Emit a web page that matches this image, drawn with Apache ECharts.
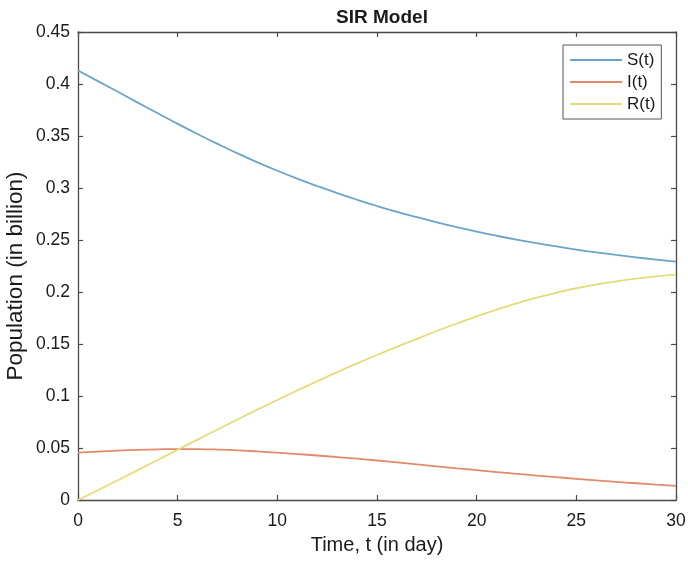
<!DOCTYPE html>
<html>
<head>
<meta charset="utf-8">
<script src="https://cdn.jsdelivr.net/npm/echarts@6/dist/echarts.min.js"></script>
<style>
  html, body { margin: 0; padding: 0; background: #fff; }
  #chart { width: 688px; height: 564px; }
</style>
</head>
<body>
<div id="chart"></div>
<script>
// Time in days
const days = [0, 1, 2, 3, 4, 5, 6, 7, 8, 9, 10, 11, 12, 13, 14, 15,
              16, 17, 18, 19, 20, 21, 22, 23, 24, 25, 26, 27, 28, 29, 30];

// Susceptible population (billion)
const susceptible = [0.4130, 0.4028, 0.3925, 0.3821, 0.3718, 0.3617, 0.3519, 0.3424, 0.3333, 0.3247,
                     0.3166, 0.3090, 0.3019, 0.2951, 0.2887, 0.2827, 0.2771, 0.2719, 0.2670, 0.2624,
                     0.2581, 0.2541, 0.2504, 0.2470, 0.2438, 0.2408, 0.2381, 0.2356, 0.2333, 0.2312, 0.2293];

// Infected population (billion)
const infected = [0.0455, 0.0466, 0.0475, 0.0482, 0.0487, 0.0490, 0.0489, 0.0485, 0.0478, 0.0467,
                  0.0455, 0.0442, 0.0428, 0.0413, 0.0397, 0.0380, 0.0362, 0.0343, 0.0324, 0.0305,
                  0.0287, 0.0269, 0.0252, 0.0235, 0.0219, 0.0204, 0.0189, 0.0175, 0.0161, 0.0148, 0.0136];

// Recovered population (billion)
const recovered = [0, 0.0094, 0.0190, 0.0287, 0.0385, 0.0483, 0.0581, 0.0678, 0.0774, 0.0869,
                   0.0962, 0.1053, 0.1142, 0.1229, 0.1313, 0.1394, 0.1473, 0.1550, 0.1625, 0.1697,
                   0.1766, 0.1831, 0.1891, 0.1945, 0.1993, 0.2036, 0.2072, 0.2103, 0.2129, 0.2150, 0.2167];

const seriesNames = ['S(t)', 'I(t)', 'R(t)'];
const seriesColors = ['#6aa5c9', '#e28a6c', '#e4dc78'];

const FONT = '"Liberation Sans", Arial, sans-serif';
const AXIS_COLOR = '#4a4a4a';

const pairs = (ys) => days.map((d, i) => [d, ys[i]]);

// Shared look for the boxed axes (ticks point into the plot)
const axisCommon = {
  type: 'value',
  axisLine: { show: true, onZero: false, lineStyle: { color: AXIS_COLOR, width: 1.3 } },
  axisTick: { show: true, inside: true, length: 5, lineStyle: { color: AXIS_COLOR, width: 1.2 } },
  splitLine: { show: false }
};

const chart = echarts.init(document.getElementById('chart'), null, { renderer: 'canvas' });

chart.setOption({
  animation: false,
  backgroundColor: '#ffffff',
  title: {
    text: 'SIR Model',
    left: 377,
    textAlign: 'center',
    top: 3,
    textStyle: { fontFamily: FONT, fontSize: 19, fontWeight: 'bold', color: '#1a1a1a' }
  },
  legend: {
    orient: 'vertical',
    left: 563,
    top: 45,
    data: seriesNames,
    icon: 'rect',
    itemWidth: 52,
    itemHeight: 2,
    itemGap: 2,
    padding: [5, 6, 5, 7],
    borderColor: '#555',
    borderWidth: 1,
    backgroundColor: '#fff',
    textStyle: { fontFamily: FONT, fontSize: 17, color: '#1a1a1a', lineHeight: 20 }
  },
  grid: { left: 78, right: 12, top: 32, bottom: 64, containLabel: false, outerBoundsMode: 'none' },
  xAxis: [
    Object.assign({}, axisCommon, {
      position: 'bottom',
      min: 0, max: 30, interval: 5,
      name: 'Time, t (in day)',
      nameLocation: 'middle',
      nameGap: 35,
      nameMoveOverlap: false,
      nameTextStyle: { fontFamily: FONT, fontSize: 20, color: '#1a1a1a' },
      axisLabel: { fontFamily: FONT, fontSize: 17.5, color: '#1a1a1a', margin: 12 }
    }),
    Object.assign({}, axisCommon, {
      position: 'top',
      min: 0, max: 30, interval: 5,
      axisLabel: { show: false }
    })
  ],
  yAxis: [
    Object.assign({}, axisCommon, {
      position: 'left',
      min: 0, max: 0.45, interval: 0.05,
      name: 'Population (in billion)',
      nameLocation: 'middle',
      nameGap: 51,
      nameMoveOverlap: false,
      nameTextStyle: { fontFamily: FONT, fontSize: 22.5, color: '#1a1a1a', padding: [0, 20, 0, 0] },
      axisLabel: { fontFamily: FONT, fontSize: 17.5, color: '#1a1a1a', margin: 8 }
    }),
    Object.assign({}, axisCommon, {
      position: 'right',
      min: 0, max: 0.45, interval: 0.05,
      axisLabel: { show: false }
    })
  ],
  series: [susceptible, infected, recovered].map((ys, k) => ({
    name: seriesNames[k],
    type: 'line',
    xAxisIndex: 0,
    yAxisIndex: 0,
    data: pairs(ys),
    smooth: true,
    showSymbol: false,
    symbol: 'none',
    color: seriesColors[k],
    lineStyle: { color: seriesColors[k], width: 1.8 }
  }))
});
</script>
</body>
</html>
